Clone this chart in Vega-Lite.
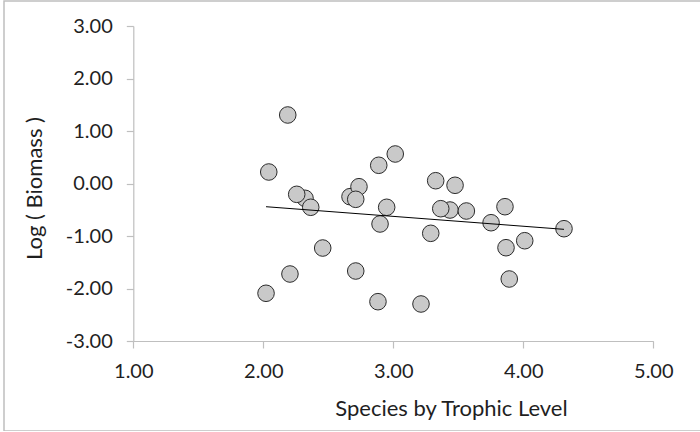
{
  "$schema": "https://vega.github.io/schema/vega-lite/v6.json",
  "autosize": "none",
  "padding": {"left": 4, "top": 1, "right": 0, "bottom": 0},
  "width": 697,
  "height": 430,
  "background": "white",
  "config": {
    "view": {"stroke": "#bfbfbf", "strokeWidth": 1.5},
    "font": "Lato",
    "locale": {"number": {"decimal": ".", "thousands": ",", "grouping": [3], "currency": ["$", ""], "minus": "-"}}
  },
  "datasets": {
    "points": [
      {"trophic": 2.188, "biomass": 1.305},
      {"trophic": 2.042, "biomass": 0.219},
      {"trophic": 2.321, "biomass": -0.282},
      {"trophic": 2.257, "biomass": -0.206},
      {"trophic": 2.365, "biomass": -0.453},
      {"trophic": 2.667, "biomass": -0.251},
      {"trophic": 2.736, "biomass": -0.061},
      {"trophic": 2.711, "biomass": -0.301},
      {"trophic": 2.888, "biomass": 0.347},
      {"trophic": 3.015, "biomass": 0.562},
      {"trophic": 2.949, "biomass": -0.453},
      {"trophic": 2.898, "biomass": -0.771},
      {"trophic": 3.326, "biomass": 0.053},
      {"trophic": 3.475, "biomass": -0.034},
      {"trophic": 3.436, "biomass": -0.505},
      {"trophic": 3.365, "biomass": -0.48},
      {"trophic": 3.562, "biomass": -0.524},
      {"trophic": 3.288, "biomass": -0.949},
      {"trophic": 3.859, "biomass": -0.442},
      {"trophic": 3.752, "biomass": -0.747},
      {"trophic": 4.313, "biomass": -0.861},
      {"trophic": 4.011, "biomass": -1.09},
      {"trophic": 3.867, "biomass": -1.223},
      {"trophic": 3.892, "biomass": -1.819},
      {"trophic": 2.457, "biomass": -1.229},
      {"trophic": 2.205, "biomass": -1.724},
      {"trophic": 2.021, "biomass": -2.091},
      {"trophic": 2.711, "biomass": -1.667},
      {"trophic": 2.882, "biomass": -2.251},
      {"trophic": 3.213, "biomass": -2.295}
    ],
    "trend": [
      {"trophic": 2.021, "biomass": -0.442},
      {"trophic": 4.313, "biomass": -0.873}
    ]
  },
  "layer": [
    {
      "data": {"name": "points"},
      "mark": {"type": "circle", "size": 275, "fill": "#c9c9c9", "stroke": "#2b2b2b", "strokeWidth": 1, "opacity": 1},
      "encoding": {
        "x": {
          "field": "trophic", "type": "quantitative",
          "scale": {"domain": [1, 5], "range": [129.3, 649.3], "nice": false, "zero": false},
          "axis": {
            "orient": "bottom", "offset": -90, "values": [1, 2, 3, 4, 5], "format": ".2f",
            "grid": false, "domainColor": "#bfbfbf", "tickColor": "#bfbfbf", "tickSize": 7,
            "domainWidth": 1.2, "tickWidth": 1.2,
            "labelFontSize": 20, "labelColor": "#1f1f1f", "labelPadding": 13, "labelFlush": false,
            "title": "Species by Trophic Level", "titleFontSize": 22, "titleFontWeight": "normal",
            "titleColor": "#1f1f1f", "titleX": 447, "titleY": 74, "titleAlign": "center",
            "titleBaseline": "alphabetic", "titleAnchor": null
          }
        },
        "y": {
          "field": "biomass", "type": "quantitative",
          "scale": {"domain": [-3, 3], "range": [340, 25], "nice": false, "zero": false},
          "axis": {
            "orient": "left", "offset": -129.3, "values": [-3, -2, -1, 0, 1, 2, 3], "format": ".2f",
            "grid": false, "domainColor": "#bfbfbf", "tickColor": "#bfbfbf", "tickSize": 7,
            "domainWidth": 1.2, "tickWidth": 1.2,
            "labelFontSize": 20, "labelColor": "#1f1f1f", "labelPadding": 14, "labelFlush": false,
            "title": "Log ( Biomass )", "titleFontSize": 22, "titleFontWeight": "normal",
            "titleColor": "#1f1f1f", "titleX": -87, "titleY": 187, "titleAlign": "center",
            "titleBaseline": "bottom", "titleAngle": -90
          }
        }
      }
    },
    {
      "data": {"name": "trend"},
      "mark": {"type": "line", "color": "#000000", "strokeWidth": 1},
      "encoding": {
        "x": {"field": "trophic", "type": "quantitative"},
        "y": {"field": "biomass", "type": "quantitative"}
      }
    }
  ]
}
